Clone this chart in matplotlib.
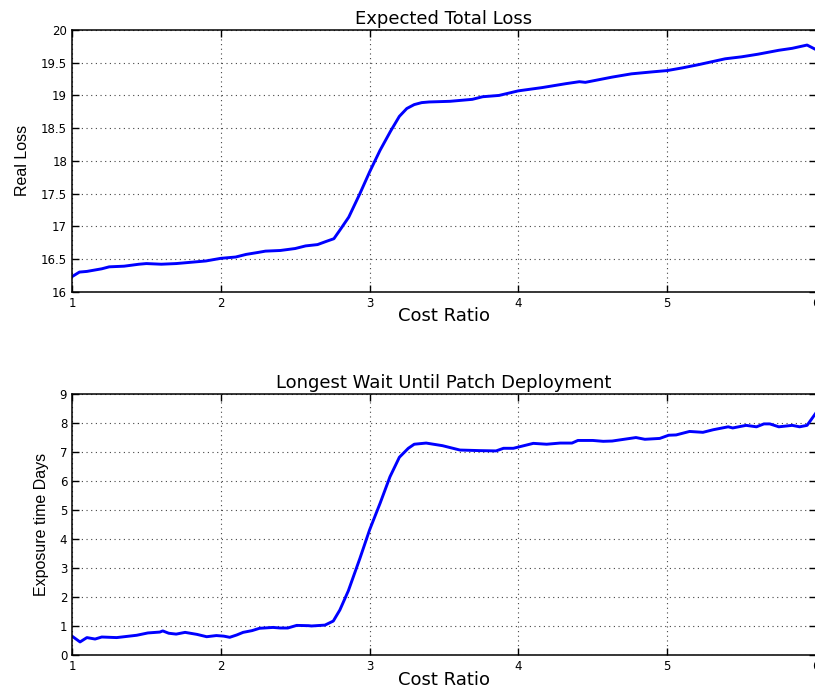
import matplotlib
matplotlib.use("Agg")
import matplotlib.pyplot as plt

# ---- data ----
loss_x = [1.00, 1.05, 1.10, 1.15, 1.20, 1.25, 1.35, 1.45, 1.50, 1.60, 1.70, 1.80,
          1.90, 2.00, 2.10, 2.17, 2.25, 2.30, 2.40, 2.50, 2.57, 2.65, 2.71, 2.76,
          2.80, 2.86, 2.935, 3.00, 3.07, 3.14, 3.20, 3.25, 3.30, 3.35, 3.40, 3.54,
          3.69, 3.76, 3.87, 4.00, 4.16, 4.32, 4.41, 4.45, 4.63, 4.76, 4.90, 5.00,
          5.10, 5.21, 5.39, 5.50, 5.61, 5.75, 5.84, 5.94, 6.00]
loss_y = [16.23, 16.30, 16.31, 16.33, 16.35, 16.38, 16.39, 16.42, 16.43, 16.42, 16.43, 16.45,
          16.47, 16.51, 16.53, 16.57, 16.60, 16.62, 16.63, 16.66, 16.70, 16.72, 16.77, 16.81,
          16.94, 17.14, 17.50, 17.83, 18.16, 18.45, 18.68, 18.80, 18.86, 18.89, 18.90, 18.91,
          18.94, 18.98, 19.00, 19.07, 19.12, 19.18, 19.21, 19.20, 19.28, 19.33, 19.36, 19.38,
          19.42, 19.47, 19.56, 19.59, 19.63, 19.69, 19.72, 19.77, 19.70]

wait_x = [1.00, 1.054, 1.10, 1.155, 1.20, 1.30, 1.435, 1.51, 1.59, 1.61, 1.65, 1.70,
          1.76, 1.84, 1.905, 1.97, 2.02, 2.06, 2.107, 2.15, 2.21, 2.26, 2.35, 2.40,
          2.45, 2.51, 2.59, 2.61, 2.70, 2.756, 2.80, 2.857, 2.935, 3.00, 3.07, 3.137,
          3.20, 3.26, 3.30, 3.38, 3.49, 3.607, 3.74, 3.85, 3.90, 3.966, 4.10, 4.19,
          4.28, 4.36, 4.40, 4.50, 4.57, 4.63, 4.79, 4.85, 4.95, 5.01, 5.06, 5.15,
          5.24, 5.31, 5.41, 5.44, 5.53, 5.60, 5.65, 5.69, 5.75, 5.84, 5.89, 5.94, 6.00]
wait_y = [0.66, 0.46, 0.61, 0.56, 0.63, 0.61, 0.69, 0.77, 0.80, 0.84, 0.76, 0.73,
          0.79, 0.72, 0.64, 0.68, 0.66, 0.62, 0.70, 0.79, 0.85, 0.93, 0.96, 0.94,
          0.94, 1.03, 1.02, 1.01, 1.04, 1.18, 1.56, 2.22, 3.34, 4.32, 5.23, 6.15,
          6.82, 7.13, 7.27, 7.31, 7.22, 7.07, 7.05, 7.04, 7.13, 7.13, 7.30, 7.27,
          7.31, 7.31, 7.40, 7.40, 7.37, 7.38, 7.50, 7.44, 7.47, 7.58, 7.59, 7.71,
          7.68, 7.77, 7.87, 7.83, 7.92, 7.87, 7.97, 7.97, 7.87, 7.92, 7.87, 7.92, 8.35]

x_ticks = [1, 2, 3, 4, 5, 6]
x_ticklabels = ["1", "2", "3", "4", "5", "6"]
loss_yticks = [16, 16.5, 17, 17.5, 18, 18.5, 19, 19.5, 20]
loss_yticklabels = ["16", "16.5", "17", "17.5", "18", "18.5", "19", "19.5", "20"]
wait_yticks = [0, 1, 2, 3, 4, 5, 6, 7, 8, 9]
wait_yticklabels = ["0", "1", "2", "3", "4", "5", "6", "7", "8", "9"]

titles = ["Expected Total Loss", "Longest Wait Until Patch Deployment"]
xlabel = "Cost Ratio"
ylabels = ["Real Loss", "Exposure time Days"]

# ---- figure ----
W, H = 815, 690
fig = plt.figure(figsize=(W / 100, H / 100), dpi=100)

def px_axes(left, top, right, bottom):
    return fig.add_axes([left / W, 1 - bottom / H, (right - left) / W, (bottom - top) / H])

ax1 = px_axes(72, 30, 816, 291.7)
ax2 = px_axes(72, 394, 816, 655.3)

label_font = ["Liberation Sans", "DejaVu Sans"]
text_font = ["DejaVu Sans"]

def style(ax, xs, ys, yt, ytl, ylim, title, ylabel):
    ax.plot(xs, ys, color=(0, 0, 1), linewidth=2.1, solid_joinstyle="round")
    ax.set_xlim(1, 6)
    ax.set_ylim(*ylim)
    ax.set_xticks(x_ticks)
    ax.set_xticklabels(x_ticklabels, family=text_font, fontsize=8.5)
    ax.set_yticks(yt)
    ax.set_yticklabels(ytl, family=text_font, fontsize=8.5)
    ax.tick_params(direction="in", length=5, width=1.0, top=True, right=True,
                   pad=3.5, colors="black")
    for s in ax.spines.values():
        s.set_linewidth(1.1)
        s.set_color("black")
    ax.grid(True, color="#444444", linestyle=(0, (1, 3.2)), linewidth=0.8)
    ax.set_axisbelow(True)
    ax.set_title(title, family=text_font, fontsize=13, pad=4)
    ax.set_xlabel(xlabel, family=text_font, fontsize=13, labelpad=-1.5)
    ax.set_ylabel(ylabel, family=label_font, fontsize=11.5, labelpad=8)

style(ax1, loss_x, loss_y, loss_yticks, loss_yticklabels, (16, 20), titles[0], ylabels[0])
style(ax2, wait_x, wait_y, wait_yticks, wait_yticklabels, (0, 9), titles[1], ylabels[1])

fig.savefig("out.png", dpi=100)
